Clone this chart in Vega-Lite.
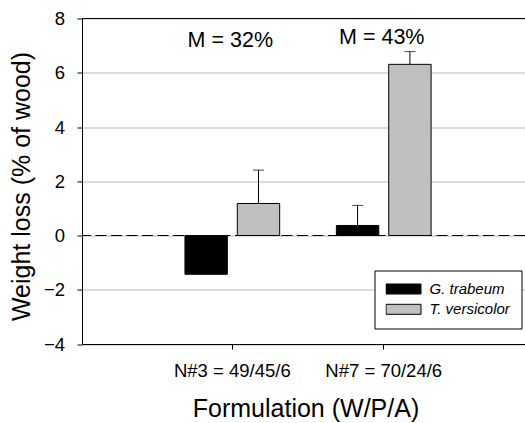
{
  "$schema": "https://vega.github.io/schema/vega-lite/v6.json",
  "autosize": "none",
  "width": 443,
  "height": 325.5,
  "padding": {"left": 82, "top": 18.5, "right": 0, "bottom": 79},
  "background": "white",
  "config": {
    "view": {"stroke": null},
    "font": "Liberation Sans",
    "axis": {
      "domainColor": "black", "domainWidth": 1,
      "tickColor": "black", "tickSize": 5, "tickWidth": 1,
      "labelColor": "black", "labelFont": "Liberation Sans", "labelFontSize": 18.5,
      "labelPadding": 12.5,
      "titleColor": "black", "titleFont": "Liberation Sans", "titleFontSize": 25, "titleFontWeight": "normal"
    }
  },
  "datasets": {
    "bars": [
      {"formulation": "N#3 = 49/45/6", "fungus": "G. trabeum", "loss": -1.43, "upper": null},
      {"formulation": "N#3 = 49/45/6", "fungus": "T. versicolor", "loss": 1.18, "upper": 2.41},
      {"formulation": "N#7 = 70/24/6", "fungus": "G. trabeum", "loss": 0.37, "upper": 1.11},
      {"formulation": "N#7 = 70/24/6", "fungus": "T. versicolor", "loss": 6.31, "upper": 6.78}
    ],
    "notes": [
      {"formulation": "N#3 = 49/45/6", "label": "M = 32%", "pos": 6.94},
      {"formulation": "N#7 = 70/24/6", "label": "M = 43%", "pos": 7.05}
    ],
    "refs": [
      {"level": 8, "kind": "top"},
      {"level": 0, "kind": "zero"}
    ]
  },
  "layer": [
    {
      "data": {"name": "refs"},
      "transform": [{"filter": "datum.kind == 'top'"}],
      "mark": {"type": "rule", "color": "black", "strokeWidth": 1},
      "encoding": {"y": {"field": "level", "type": "quantitative", "scale": {"domain": [-4, 8], "nice": false, "zero": false}}}
    },
    {
      "data": {"name": "refs"},
      "transform": [{"filter": "datum.kind == 'zero'"}],
      "mark": {"type": "rule", "color": "black", "strokeWidth": 1, "strokeDash": [11, 4.5]},
      "encoding": {"y": {"field": "level", "type": "quantitative"}}
    },
    {
      "data": {"name": "bars"},
      "mark": {"type": "bar", "stroke": "black", "strokeWidth": 1},
      "encoding": {
        "x": {
          "field": "formulation", "type": "nominal",
          "scale": {"domain": ["N#3 = 49/45/6", "N#7 = 70/24/6"], "paddingInner": 0.3745, "paddingOuter": 0.65, "align": 0.523},
          "axis": {"title": "Formulation (W/P/A)", "labelAngle": 0, "grid": false, "titlePadding": 16, "titleX": 223.5}
        },
        "xOffset": {"field": "fungus", "type": "nominal", "scale": {"domain": ["G. trabeum", "T. versicolor"], "paddingInner": 0.19, "paddingOuter": 0}},
        "y": {
          "field": "loss", "type": "quantitative",
          "scale": {"domain": [-4, 8], "nice": false, "zero": false},
          "axis": {"title": "Weight loss (% of wood)", "values": [-4, -2, 0, 2, 4, 6, 8], "grid": true, "gridColor": "#d0d0d0", "gridWidth": 1.5, "titlePadding": 9, "titleY": 167.5}
        },
        "y2": {"datum": 0},
        "color": {
          "field": "fungus", "type": "nominal",
          "scale": {"domain": ["G. trabeum", "T. versicolor"], "range": ["#000000", "#c0c0c0"]},
          "legend": {
            "title": null,
            "orient": "none", "legendX": 292.5, "legendY": 252,
            "direction": "vertical",
            "fillColor": "white", "strokeColor": "black", "cornerRadius": 0,
            "padding": 11, "rowPadding": 4.3, "clipHeight": 15,
            "symbolType": "M-1,-0.2857H1V0.2857H-1Z", "symbolSize": 1225,
            "symbolStrokeColor": "black", "symbolStrokeWidth": 1, "symbolOpacity": 1,
            "labelFont": "Liberation Sans", "labelFontSize": 15, "labelFontStyle": "italic", "labelColor": "black", "labelOffset": 8
          }
        }
      }
    },
    {
      "data": {"name": "bars"},
      "transform": [{"filter": "datum.upper != null"}],
      "mark": {"type": "rule", "color": "black", "strokeWidth": 1},
      "encoding": {
        "x": {"field": "formulation", "type": "nominal"},
        "xOffset": {"field": "fungus", "type": "nominal"},
        "y": {"field": "loss", "type": "quantitative"},
        "y2": {"field": "upper"}
      }
    },
    {
      "data": {"name": "bars"},
      "transform": [{"filter": "datum.upper != null"}],
      "mark": {"type": "tick", "color": "black", "size": 11, "thickness": 1, "orient": "horizontal"},
      "encoding": {
        "x": {"field": "formulation", "type": "nominal"},
        "xOffset": {"field": "fungus", "type": "nominal"},
        "y": {"field": "upper", "type": "quantitative"}
      }
    },
    {
      "data": {"name": "notes"},
      "mark": {"type": "text", "font": "Liberation Sans", "fontSize": 21.5, "color": "black", "baseline": "alphabetic", "align": "center", "dx": -2},
      "encoding": {
        "x": {"field": "formulation", "type": "nominal"},
        "y": {"field": "pos", "type": "quantitative"},
        "text": {"field": "label"}
      }
    }
  ]
}
